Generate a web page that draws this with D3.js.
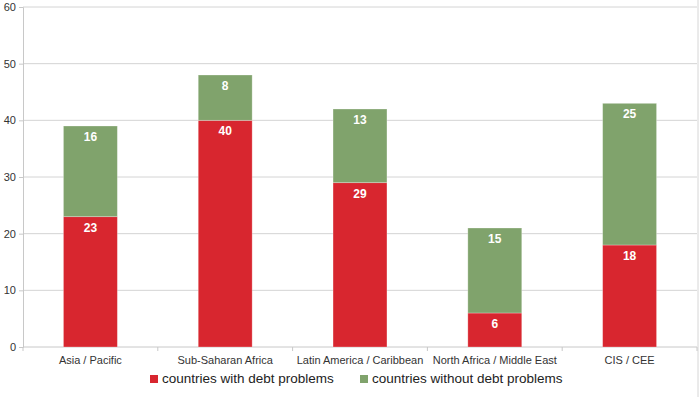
<!DOCTYPE html>
<html>
<head>
<meta charset="utf-8">
<script src="https://cdn.jsdelivr.net/npm/d3@7"></script>
<style>
  body { margin: 0; background: #fff; }
  text { font-family: "Liberation Sans", Arial, sans-serif; }
</style>
</head>
<body>
<div id="chart"></div>
<script>
const regions = ["Asia / Pacific", "Sub-Saharan Africa", "Latin America / Caribbean", "North Africa / Middle East", "CIS / CEE"];
const withDebt = [23, 40, 29, 6, 18];
const withoutDebt = [16, 8, 13, 15, 25];
const seriesNames = ["countries with debt problems", "countries without debt problems"];
const yTicks = [0, 10, 20, 30, 40, 50, 60];

const colors = ["#d8262f", "#80a36c"];

const W = 700, H = 397;
const margin = { top: 7, right: 3, bottom: 50, left: 23 };
const width = W - margin.left - margin.right;
const height = H - margin.top - margin.bottom;

const svg = d3.select("#chart").append("svg")
    .attr("width", W)
    .attr("height", H);

// frame line on the right edge
svg.append("line")
    .attr("x1", W - 2).attr("x2", W - 2)
    .attr("y1", 0).attr("y2", H)
    .attr("stroke", "#d6d6d6");

const g = svg.append("g")
    .attr("transform", "translate(" + margin.left + "," + margin.top + ")");

const x = d3.scaleBand()
    .domain(regions)
    .range([0, width])
    .paddingInner(0.6)
    .paddingOuter(0.3);

const y = d3.scaleLinear()
    .domain([0, 60])
    .range([height, 0]);

// gridlines
g.selectAll(".grid")
    .data(yTicks.filter(d => d > 0))
    .enter().append("line")
    .attr("class", "grid")
    .attr("x1", 0).attr("x2", width)
    .attr("y1", d => y(d)).attr("y2", d => y(d))
    .attr("stroke", "#d4d4d4");

// y axis
const yAxis = g.append("g")
    .call(d3.axisLeft(y).tickValues(yTicks).tickSize(4).tickPadding(3));
yAxis.select(".domain").attr("stroke", "#c8c8c8");
yAxis.selectAll(".tick line").attr("stroke", "#c8c8c8");
yAxis.selectAll("text").attr("font-size", 11).attr("fill", "#333");

// x axis with ticks at band boundaries
const xAxisG = g.append("g")
    .attr("transform", "translate(0," + height + ")");
xAxisG.append("line")
    .attr("x1", 0).attr("x2", width)
    .attr("stroke", "#c8c8c8");
const step = width / regions.length;
xAxisG.selectAll(".xtick")
    .data(d3.range(regions.length + 1))
    .enter().append("line")
    .attr("x1", d => d * step).attr("x2", d => d * step)
    .attr("y1", 0).attr("y2", 4)
    .attr("stroke", "#c8c8c8");
xAxisG.selectAll(".xlabel")
    .data(regions)
    .enter().append("text")
    .attr("x", d => x(d) + x.bandwidth() / 2)
    .attr("y", 17)
    .attr("text-anchor", "middle")
    .attr("font-size", 11)
    .attr("fill", "#333")
    .text(d => d);

// stacked data
const rows = regions.map((r, i) => ({ region: r, a: withDebt[i], b: withoutDebt[i] }));
const stacked = d3.stack().keys(["a", "b"])(rows);

const layers = g.selectAll(".layer")
    .data(stacked)
    .enter().append("g")
    .attr("fill", (d, i) => colors[i]);

layers.selectAll("rect")
    .data(d => d)
    .enter().append("rect")
    .attr("x", d => x(d.data.region))
    .attr("y", d => y(d[1]))
    .attr("width", x.bandwidth())
    .attr("height", d => y(d[0]) - y(d[1]))
    .attr("stroke", "rgba(255,255,255,0.35)")
    .attr("stroke-width", 0.8);

layers.selectAll(".val")
    .data(d => d)
    .enter().append("text")
    .attr("x", d => x(d.data.region) + x.bandwidth() / 2)
    .attr("y", d => y(d[1]) + 15)
    .attr("text-anchor", "middle")
    .attr("font-size", 12)
    .attr("font-weight", "bold")
    .attr("fill", "#fff")
    .text(d => d[1] - d[0]);

// legend
const legend = svg.append("g")
    .attr("transform", "translate(150," + 383 + ")");
const legendX = [0, 210];
seriesNames.forEach((name, i) => {
    legend.append("rect")
        .attr("x", legendX[i])
        .attr("y", -8)
        .attr("width", 8)
        .attr("height", 8)
        .attr("fill", colors[i]);
    legend.append("text")
        .attr("x", legendX[i] + 12)
        .attr("y", 0)
        .attr("font-size", 13.5)
        .attr("fill", "#222")
        .text(name);
});
</script>
</body>
</html>
